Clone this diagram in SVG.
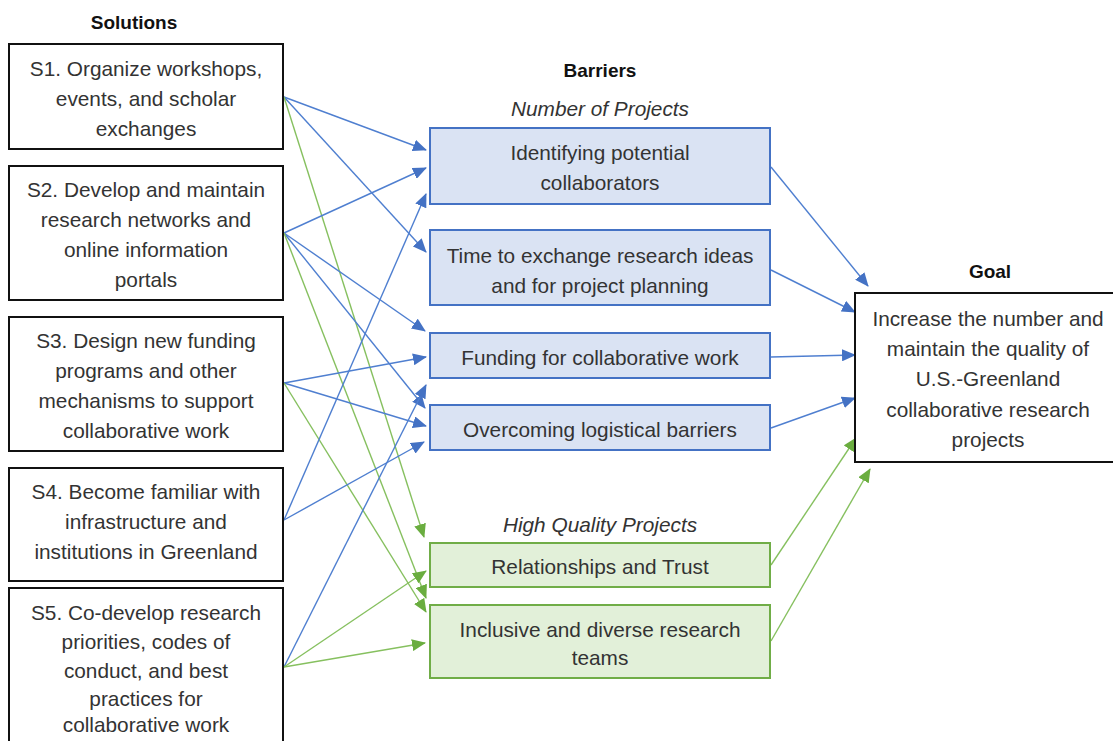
<svg xmlns="http://www.w3.org/2000/svg" width="1113" height="741" viewBox="0 0 1113 741">
<style>
text{font-family:"Liberation Sans",Arial,sans-serif;font-size:20.8px;fill:#333;text-anchor:middle;dominant-baseline:central}
.h{font-weight:bold;font-size:19px;fill:#111}
.i{font-style:italic}
.sol{fill:#fff;stroke:#111;stroke-width:2}
.nb{fill:#dae3f3;stroke:#4472c4;stroke-width:2}
.gb{fill:#e2f0d9;stroke:#70ad47;stroke-width:2}
.bl{stroke:#4f7fd0;stroke-width:1.4;fill:none;marker-end:url(#ab)}
.gl{stroke:#86c05f;stroke-width:1.4;fill:none;marker-end:url(#ag)}
</style>
<defs>
<marker id="ab" markerUnits="userSpaceOnUse" markerWidth="14" markerHeight="12" refX="13" refY="6" orient="auto"><path d="M0,0L14,6L0,12z" fill="#4472c4"/></marker>
<marker id="ag" markerUnits="userSpaceOnUse" markerWidth="14" markerHeight="12" refX="13" refY="6" orient="auto"><path d="M0,0L14,6L0,12z" fill="#6aad3f"/></marker>
</defs>
<rect width="1113" height="741" fill="#fff"/>
<text class="h" x="134" y="22">Solutions</text>
<text class="h" x="600" y="70">Barriers</text>
<text class="i" x="600" y="108">Number of Projects</text>
<text class="i" x="600" y="524">High Quality Projects</text>
<text class="h" x="990" y="271">Goal</text>
<g id="connectors">
<line class="bl" x1="284" y1="97" x2="426" y2="150"/>
<line class="bl" x1="284" y1="97" x2="426" y2="252"/>
<line class="gl" x1="284" y1="97" x2="424" y2="537"/>
<line class="bl" x1="284" y1="233" x2="426" y2="168"/>
<line class="bl" x1="284" y1="233" x2="425" y2="331"/>
<line class="bl" x1="284" y1="233" x2="425" y2="408"/>
<line class="gl" x1="284" y1="233" x2="426" y2="598"/>
<line class="bl" x1="284" y1="383" x2="426" y2="357"/>
<line class="bl" x1="284" y1="383" x2="426" y2="426"/>
<line class="gl" x1="284" y1="383" x2="426" y2="612"/>
<line class="bl" x1="284" y1="520" x2="426" y2="194"/>
<line class="bl" x1="284" y1="520" x2="424" y2="442"/>
<line class="bl" x1="284" y1="667" x2="426" y2="385"/>
<line class="gl" x1="284" y1="667" x2="426" y2="571"/>
<line class="gl" x1="284" y1="667" x2="425" y2="643"/>
<line class="bl" x1="771" y1="167" x2="868" y2="286"/>
<line class="bl" x1="771" y1="270" x2="855" y2="312"/>
<line class="bl" x1="771" y1="357" x2="855" y2="355"/>
<line class="bl" x1="771" y1="428" x2="855" y2="398"/>
<line class="gl" x1="771" y1="565" x2="856" y2="438"/>
<line class="gl" x1="771" y1="641" x2="870" y2="469"/>
</g>
<g id="s1"><rect class="sol" x="9" y="44" width="274" height="105"/><text x="146" y="68">S1. Organize workshops,</text><text x="146" y="98">events, and scholar</text><text x="146" y="128">exchanges</text></g>
<g id="s2"><rect class="sol" x="9" y="166" width="274" height="134"/><text x="146" y="189">S2. Develop and maintain</text><text x="146" y="219">research networks and</text><text x="146" y="249">online information</text><text x="146" y="279">portals</text></g>
<g id="s3"><rect class="sol" x="9" y="317" width="274" height="134"/><text x="146" y="340">S3. Design new funding</text><text x="146" y="370">programs and other</text><text x="146" y="400">mechanisms to support</text><text x="146" y="430">collaborative work</text></g>
<g id="s4"><rect class="sol" x="9" y="468" width="274" height="113"/><text x="146" y="491">S4. Become familiar with</text><text x="146" y="521">infrastructure and</text><text x="146" y="551">institutions in Greenland</text></g>
<g id="s5"><rect class="sol" x="9" y="588" width="274" height="160"/><text x="146" y="612">S5. Co-develop research</text><text x="146" y="641">priorities, codes of</text><text x="146" y="670">conduct, and best</text><text x="146" y="698">practices for</text><text x="146" y="724">collaborative work</text></g>
<g id="b1"><rect class="nb" x="430" y="128" width="340" height="76"/><text x="600" y="152">Identifying potential</text><text x="600" y="182">collaborators</text></g>
<g id="b2"><rect class="nb" x="430" y="230" width="340" height="75"/><text x="600" y="255">Time to exchange research ideas</text><text x="600" y="285">and for project planning</text></g>
<g id="b3"><rect class="nb" x="430" y="333" width="340" height="45"/><text x="600" y="357">Funding for collaborative work</text></g>
<g id="b4"><rect class="nb" x="430" y="405" width="340" height="45"/><text x="600" y="429">Overcoming logistical barriers</text></g>
<g id="b5"><rect class="gb" x="430" y="543" width="340" height="44"/><text x="600" y="566">Relationships and Trust</text></g>
<g id="b6"><rect class="gb" x="430" y="605" width="340" height="73"/><text x="600" y="629">Inclusive and diverse research</text><text x="600" y="657">teams</text></g>
<g id="goal"><rect class="sol" x="855" y="293" width="262" height="169"/><text x="988" y="318">Increase the number and</text><text x="988" y="348">maintain the quality of</text><text x="988" y="378">U.S.-Greenland</text><text x="988" y="409">collaborative research</text><text x="988" y="439">projects</text></g>
</svg>
